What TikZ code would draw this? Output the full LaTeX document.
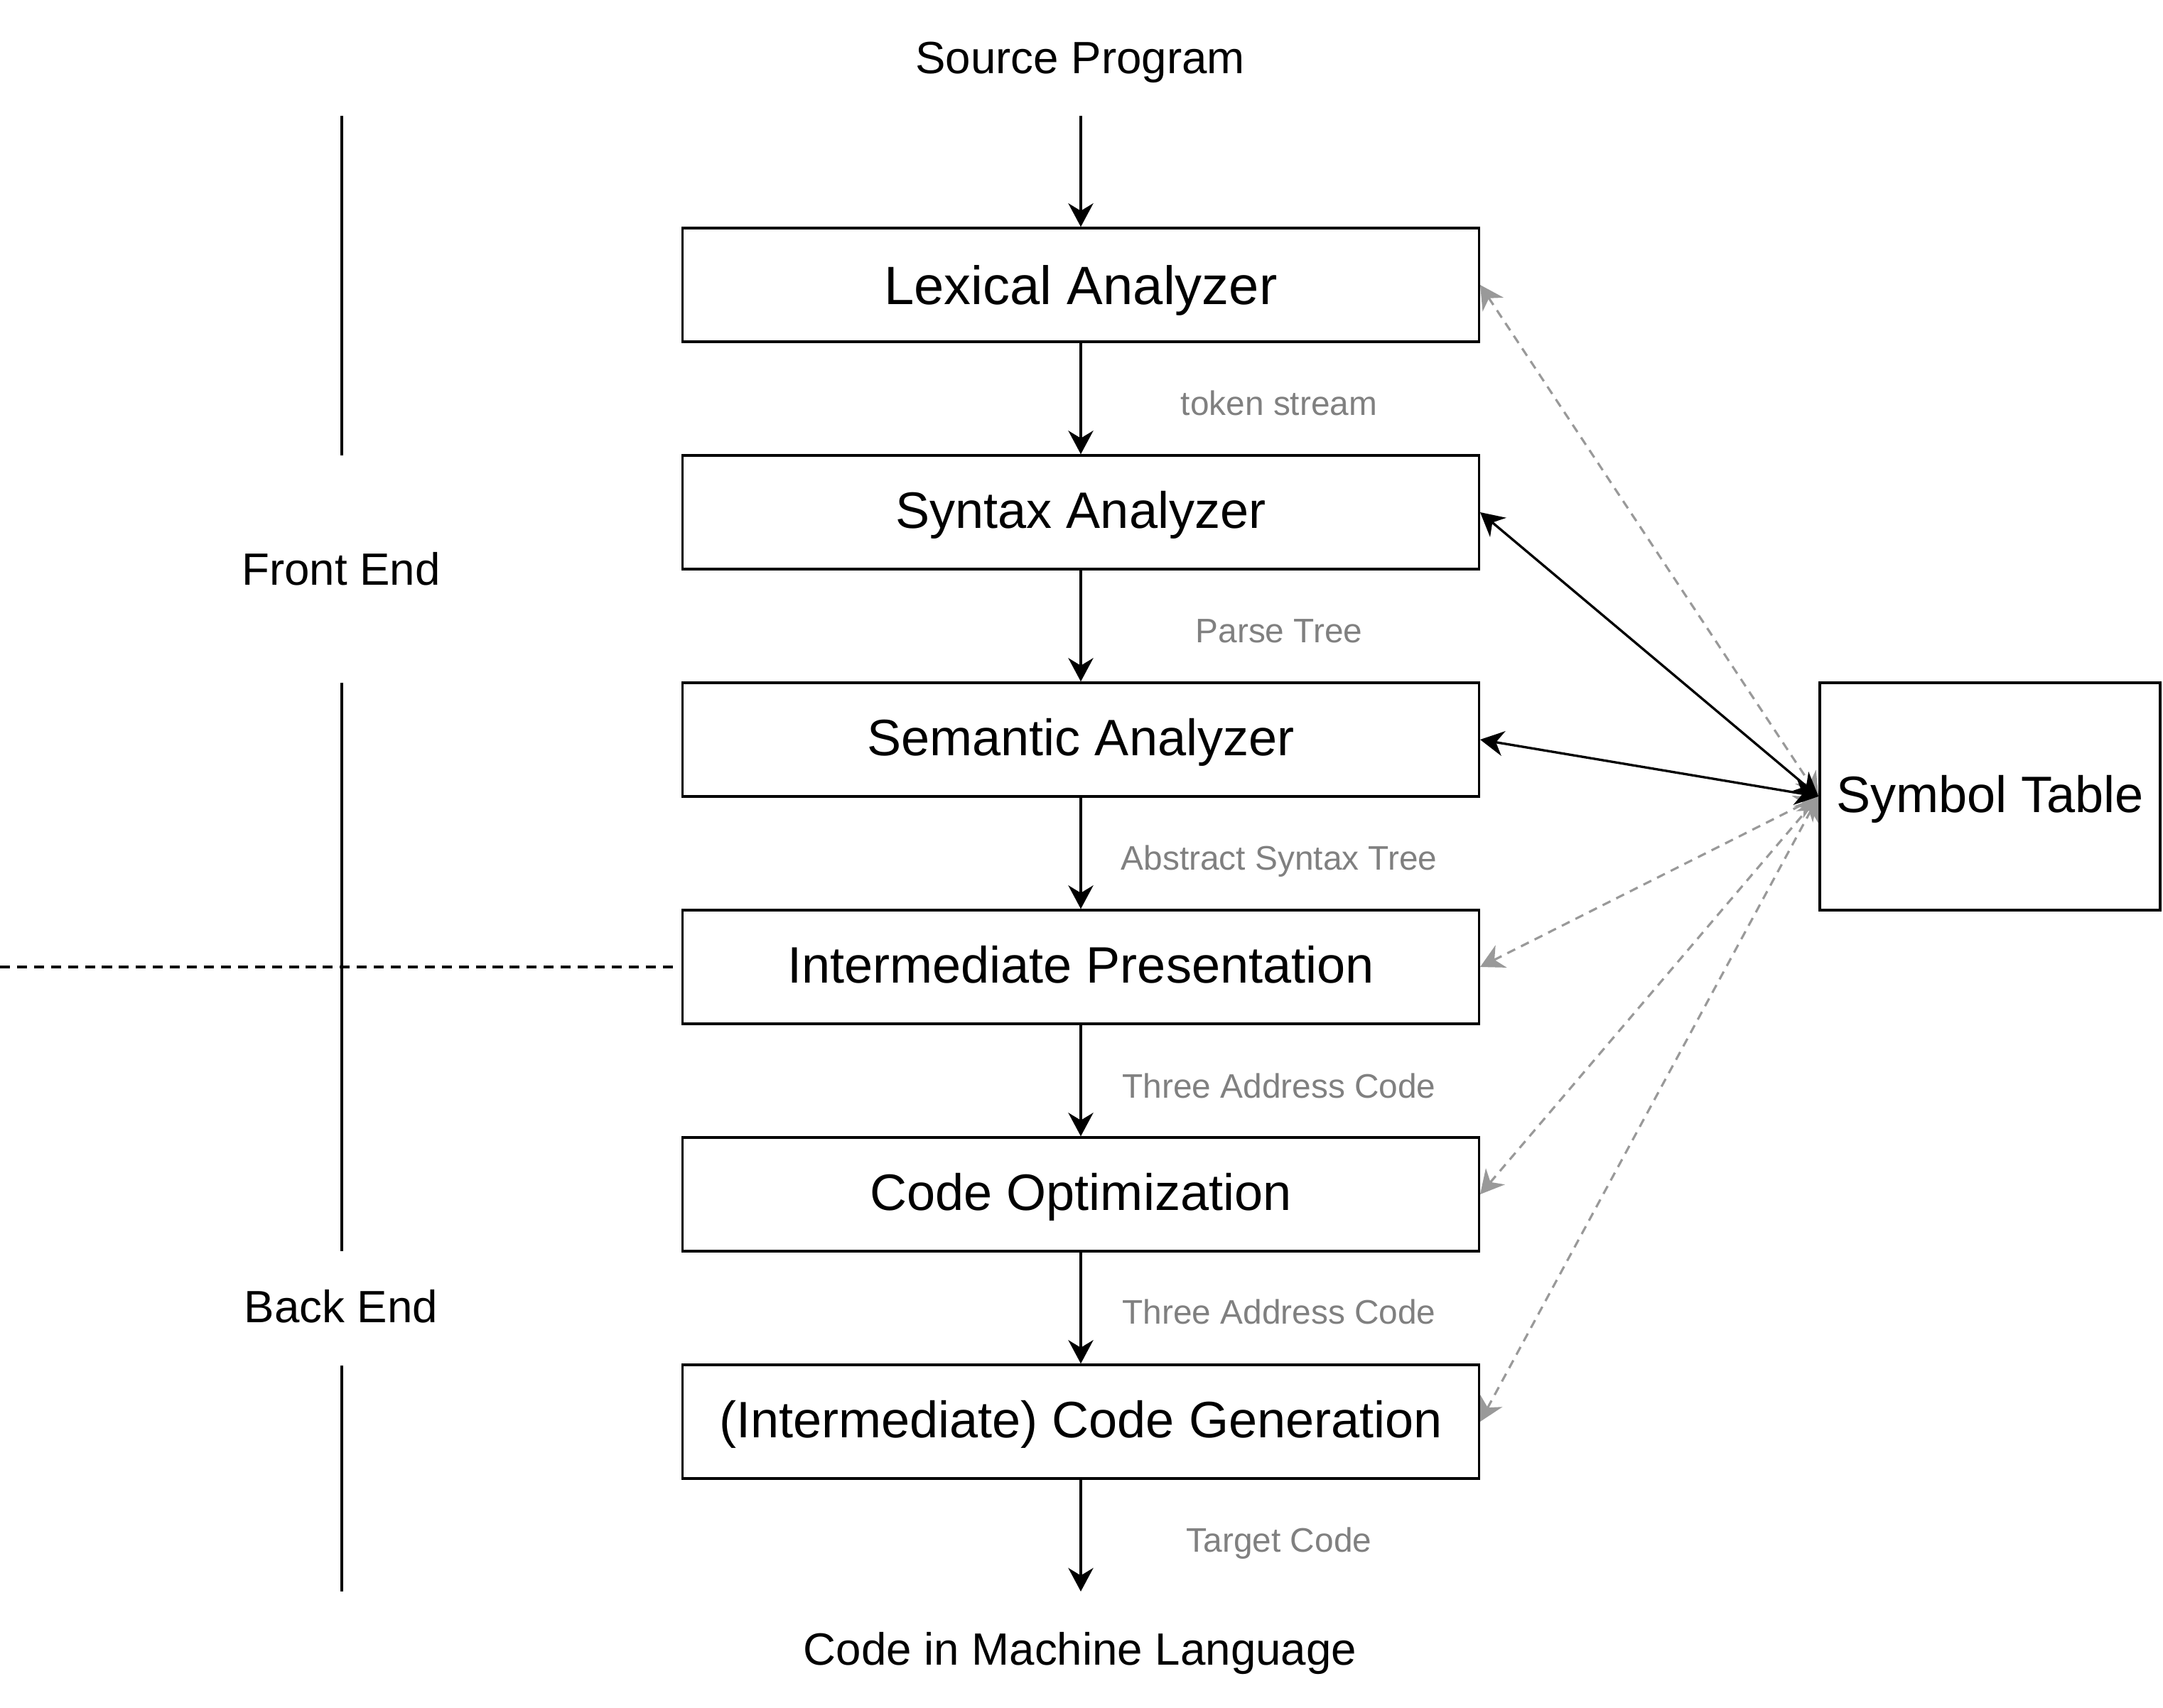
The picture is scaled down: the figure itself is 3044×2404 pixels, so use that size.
\documentclass[tikz,border=0pt]{standalone}
\usepackage{fontspec}
\setmainfont{Liberation Sans}
\usetikzlibrary{arrows.meta}
\begin{document}
\begin{tikzpicture}[x=0.01cm,y=-0.01cm,
  stage/.style={draw=black,line width=0.95pt,minimum width=11.2cm,minimum height=1.6cm,inner sep=0pt,
    font=\fontsize{20.5}{24}\selectfont,text height=12.8pt,text depth=0pt},
  bigtext/.style={inner sep=0pt,font=\fontsize{18.1}{22}\selectfont,text height=12.1pt,text depth=0pt},
  elabel/.style={inner sep=0pt,text=black!50,font=\fontsize{13.6}{16}\selectfont,text height=9.8pt,text depth=0pt},
  tip/.style={-{Stealth[length=9.4pt,width=10pt,inset=3pt]}},
  flow/.style={tip,line width=0.95pt},
  solidlink/.style={{Stealth[length=9.4pt,width=10pt,inset=3pt]}-{Stealth[length=9.4pt,width=10pt,inset=3pt]},line width=0.95pt},
  graylink/.style={{Stealth[length=9.4pt,width=10pt,inset=3pt]}-{Stealth[length=9.4pt,width=10pt,inset=3pt]},line width=0.9pt,draw=black!40,dash pattern=on 3.5pt off 2.6pt},
  divider/.style={line width=0.9pt}
]
\useasboundingbox (0,0) rectangle (3044,2404);

% boxes
\node[stage,font=\fontsize{21.6}{25}\selectfont,text height=15.5pt] (lex) at (1521,401) {Lexical Analyzer};
\node[stage] (syn) at (1521,721) {Syntax Analyzer};
\node[stage] (sem) at (1521,1041) {Semantic Analyzer};
\node[stage] (ip)  at (1521,1361) {Intermediate Presentation};
\node[stage] (co)  at (1521,1681) {Code Optimization};
\node[stage] (cg)  at (1521,2001) {(Intermediate) Code Generation};
\node[stage,minimum width=4.79cm,minimum height=3.2cm] (st) at (2800.5,1121) {Symbol Table};

% top and bottom texts
\node[bigtext] (src) at (1520,82) {Source Program};
\node[bigtext] (out) at (1520,2322) {Code in Machine Language};
\coordinate (srcend) at (1521,163);
\coordinate (outend) at (1521,2240);

% main flow
\draw[flow] (srcend) -- (lex.north);
\draw[flow] (lex.south) -- (syn.north);
\draw[flow] (syn.south) -- (sem.north);
\draw[flow] (sem.south) -- (ip.north);
\draw[flow] (ip.south) -- (co.north);
\draw[flow] (co.south) -- (cg.north);
\draw[flow] (cg.south) -- (outend);

% edge labels
\node[elabel] (l1) at (1800,567) {token stream};
\node[elabel] (l2) at (1800,887) {Parse Tree};
\node[elabel] (l3) at (1800,1207) {Abstract Syntax Tree};
\node[elabel] (l4) at (1800,1528) {Three Address Code};
\node[elabel] (l5) at (1800,1846) {Three Address Code};
\node[elabel] (l6) at (1800,2167) {Target Code};

% symbol table links
\draw[graylink] (lex.east) -- (st.west);
\draw[graylink] (ip.east) -- (st.west);
\draw[graylink] (co.east) -- (st.west);
\draw[graylink] (cg.east) -- (st.west);
\draw[solidlink] (syn.east) -- (st.west);
\draw[solidlink] (sem.east) -- (st.west);

% front end / back end
\node[bigtext] (fe) at (480,802) {Front End};
\node[bigtext] (be) at (480,1840) {Back End};
\coordinate (v1a) at (481,163);
\coordinate (v1b) at (481,641);
\coordinate (v2a) at (481,961);
\coordinate (v2b) at (481,1761);
\coordinate (v3a) at (481,1922);
\coordinate (v3b) at (481,2240);
\draw[divider] (v1a) -- (v1b);
\draw[divider] (v2a) -- (v2b);
\draw[divider] (v3a) -- (v3b);

\coordinate (dl0) at (0,1361);
\coordinate (dl1) at (951,1361);
\draw[line width=0.9pt,dash pattern=on 4pt off 2.8pt] (dl0) -- (dl1);
\end{tikzpicture}
\end{document}
